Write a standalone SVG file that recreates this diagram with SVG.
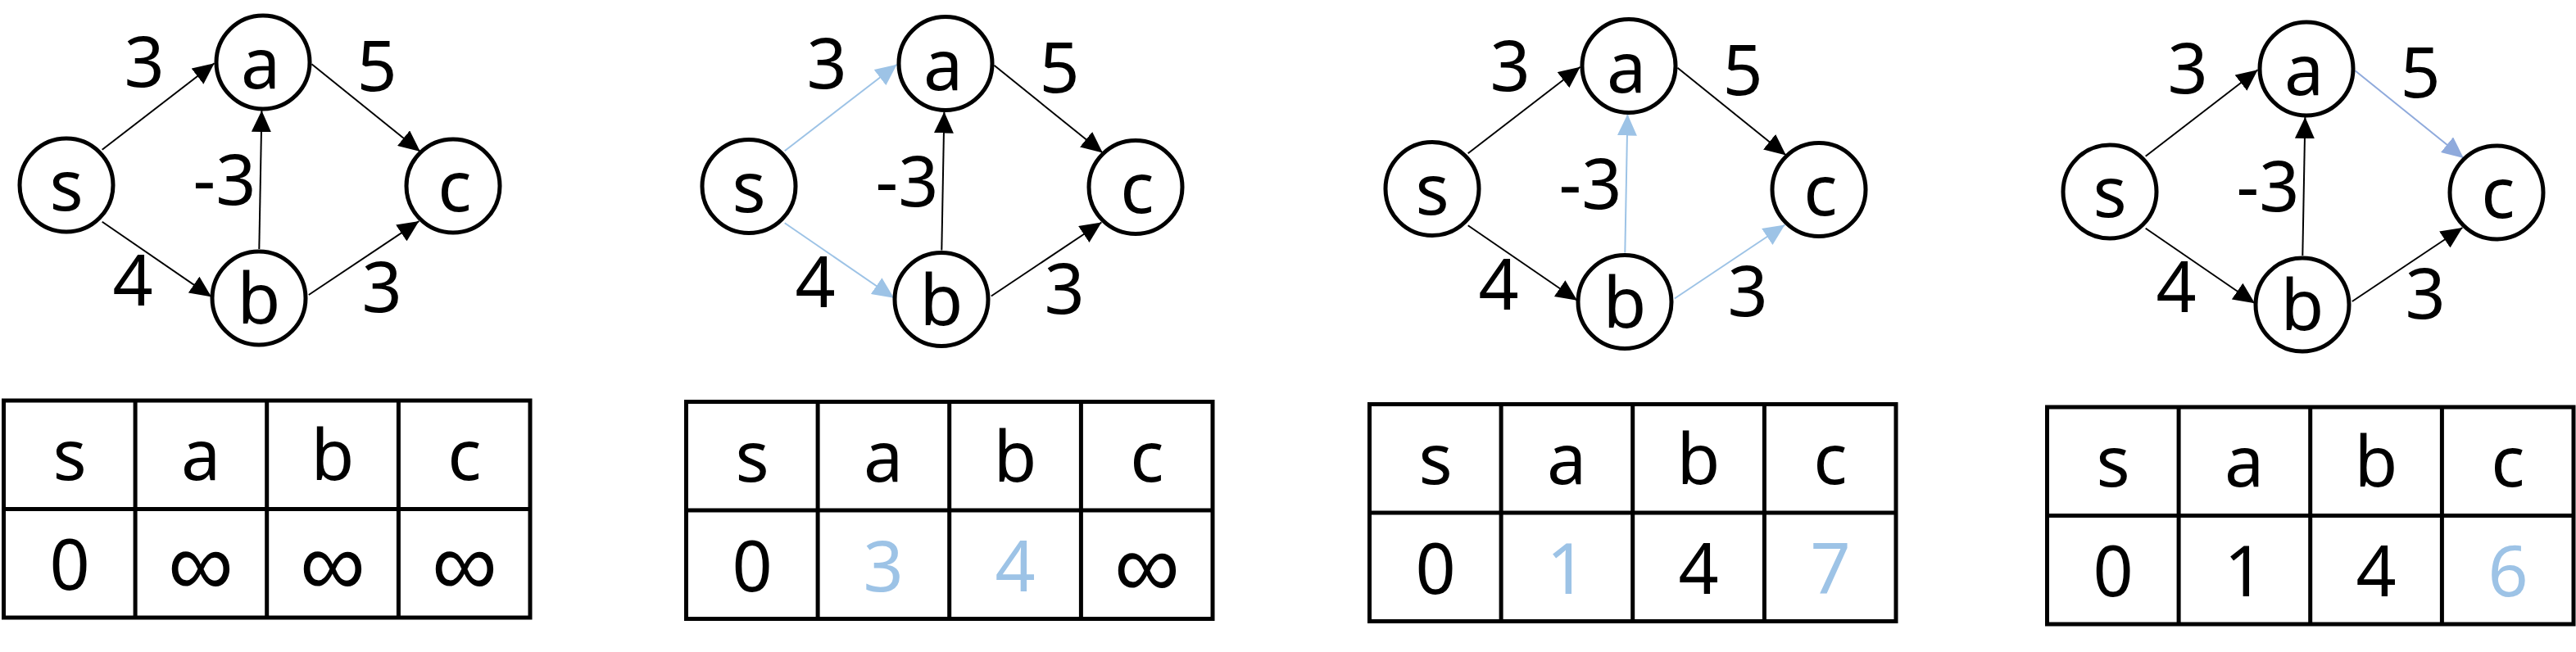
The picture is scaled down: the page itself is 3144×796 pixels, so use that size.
<svg xmlns="http://www.w3.org/2000/svg" width="3144" height="796" viewBox="0 0 3144 796">
<style>
.bg{fill:#ffffff}
.node{fill:#ffffff;stroke:#000;stroke-width:5}
.t{font-family:"Noto Sans","Liberation Sans",sans-serif;font-size:86px;text-anchor:middle;fill:#000}
.inf{font-family:"Liberation Sans","DejaVu Sans",sans-serif;font-size:112px;text-anchor:middle;fill:#000}
.hl{fill:#9DC3E6}
.e{fill:none;stroke:#000;stroke-width:2;marker-end:url(#ak)}
.eb{fill:none;stroke:#9DC3E6;stroke-width:2;marker-end:url(#ab)}
.ep{fill:none;stroke:#8FAADC;stroke-width:2;marker-end:url(#ap)}
.tbl{fill:none;stroke:#000;stroke-width:5}
</style>
<defs>
<marker id="ak" markerUnits="userSpaceOnUse" markerWidth="27" markerHeight="24" refX="26" refY="12" orient="auto"><path d="M0,0 L26,12 L0,24 Z" fill="#000"/></marker>
<marker id="ab" markerUnits="userSpaceOnUse" markerWidth="27" markerHeight="24" refX="26" refY="12" orient="auto"><path d="M0,0 L26,12 L0,24 Z" fill="#9DC3E6"/></marker>
<marker id="ap" markerUnits="userSpaceOnUse" markerWidth="27" markerHeight="24" refX="26" refY="12" orient="auto"><path d="M0,0 L26,12 L0,24 Z" fill="#8FAADC"/></marker>
</defs>
<rect class="bg" x="0" y="0" width="3144" height="796"/>

<!-- Panel 1 -->
<g id="panel1">
  <g id="p1-connectors">
    <path class="e" d="M124.7,182.7 L261.6,77.3"/>
    <path class="e" d="M124.7,270.7 L258,362.3"/>
    <path class="e" d="M316.3,304 L319.4,135"/>
    <path class="e" d="M380.4,78.3 L512.8,185"/>
    <path class="e" d="M376.8,360 L511.4,270"/>
    <text class="t" x="176" y="106">3</text>
    <text class="t" x="460" y="111">5</text>
    <text class="t" x="274" y="250">-3</text>
    <text class="t" x="162" y="373">4</text>
    <text class="t" x="466" y="381">3</text>
  </g>
  <g id="p1-s"><circle class="node" cx="81" cy="226" r="57"/><text class="t" x="81" y="257">s</text></g>
  <g id="p1-a"><circle class="node" cx="321" cy="76" r="57"/><text class="t" x="318" y="108">a</text></g>
  <g id="p1-b"><circle class="node" cx="316" cy="364" r="57"/><text class="t" x="316" y="395">b</text></g>
  <g id="p1-c"><circle class="node" cx="553" cy="227" r="57"/><text class="t" x="555" y="258">c</text></g>
  <g id="p1-table">
    <rect class="tbl" x="4.5" y="489" width="642.5" height="265"/>
    <path class="tbl" d="M165.1,489 V754 M325.7,489 V754 M486.4,489 V754 M4.5,621.5 H647"/>
    <text class="t" x="85" y="586">s</text><text class="t" x="245" y="586">a</text><text class="t" x="406" y="586">b</text><text class="t" x="567" y="586">c</text>
    <text class="t" x="85" y="720">0</text><text class="inf" x="245" y="727">∞</text><text class="inf" x="406" y="727">∞</text><text class="inf" x="567" y="727">∞</text>
  </g>
</g>

<!-- Panel 2 -->
<g id="panel2" transform="translate(833,1.5)">
  <g id="p2-connectors">
    <path class="eb" d="M124.7,182.7 L261.6,77.3"/>
    <path class="eb" d="M124.7,270.7 L258,362.3"/>
    <path class="e" d="M316.3,304 L319.4,135"/>
    <path class="e" d="M380.4,78.3 L512.8,185"/>
    <path class="e" d="M376.8,360 L511.4,270"/>
    <text class="t" x="176" y="106">3</text>
    <text class="t" x="460" y="111">5</text>
    <text class="t" x="274" y="250">-3</text>
    <text class="t" x="162" y="373">4</text>
    <text class="t" x="466" y="381">3</text>
  </g>
  <g id="p2-s"><circle class="node" cx="81" cy="226" r="57"/><text class="t" x="81" y="257">s</text></g>
  <g id="p2-a"><circle class="node" cx="321" cy="76" r="57"/><text class="t" x="318" y="108">a</text></g>
  <g id="p2-b"><circle class="node" cx="316" cy="364" r="57"/><text class="t" x="316" y="395">b</text></g>
  <g id="p2-c"><circle class="node" cx="553" cy="227" r="57"/><text class="t" x="555" y="258">c</text></g>
  <g id="p2-table">
    <rect class="tbl" x="4.5" y="489" width="642.5" height="265"/>
    <path class="tbl" d="M165.1,489 V754 M325.7,489 V754 M486.4,489 V754 M4.5,621.5 H647"/>
    <text class="t" x="85" y="586">s</text><text class="t" x="245" y="586">a</text><text class="t" x="406" y="586">b</text><text class="t" x="567" y="586">c</text>
    <text class="t" x="85" y="720">0</text><text class="t hl" x="245" y="720">3</text><text class="t hl" x="406" y="720">4</text><text class="inf" x="567" y="727">∞</text>
  </g>
</g>

<!-- Panel 3 -->
<g id="panel3" transform="translate(1667,4.5)">
  <g id="p3-connectors">
    <path class="e" d="M124.7,182.7 L261.6,77.3"/>
    <path class="e" d="M124.7,270.7 L258,362.3"/>
    <path class="eb" d="M316.3,304 L319.4,135"/>
    <path class="e" d="M380.4,78.3 L512.8,185"/>
    <path class="eb" d="M376.8,360 L511.4,270"/>
    <text class="t" x="176" y="106">3</text>
    <text class="t" x="460" y="111">5</text>
    <text class="t" x="274" y="250">-3</text>
    <text class="t" x="162" y="373">4</text>
    <text class="t" x="466" y="381">3</text>
  </g>
  <g id="p3-s"><circle class="node" cx="81" cy="226" r="57"/><text class="t" x="81" y="257">s</text></g>
  <g id="p3-a"><circle class="node" cx="321" cy="76" r="57"/><text class="t" x="318" y="108">a</text></g>
  <g id="p3-b"><circle class="node" cx="316" cy="364" r="57"/><text class="t" x="316" y="395">b</text></g>
  <g id="p3-c"><circle class="node" cx="553" cy="227" r="57"/><text class="t" x="555" y="258">c</text></g>
  <g id="p3-table">
    <rect class="tbl" x="4.5" y="489" width="642.5" height="265"/>
    <path class="tbl" d="M165.1,489 V754 M325.7,489 V754 M486.4,489 V754 M4.5,621.5 H647"/>
    <text class="t" x="85" y="586">s</text><text class="t" x="245" y="586">a</text><text class="t" x="406" y="586">b</text><text class="t" x="567" y="586">c</text>
    <text class="t" x="85" y="720">0</text><text class="t hl" x="245" y="720">1</text><text class="t" x="406" y="720">4</text><text class="t hl" x="567" y="720">7</text>
  </g>
</g>

<!-- Panel 4 -->
<g id="panel4" transform="translate(2494,8)">
  <g id="p4-connectors">
    <path class="e" d="M124.7,182.7 L261.6,77.3"/>
    <path class="e" d="M124.7,270.7 L258,362.3"/>
    <path class="e" d="M316.3,304 L319.4,135"/>
    <path class="ep" d="M380.4,78.3 L512.8,185"/>
    <path class="e" d="M376.8,360 L511.4,270"/>
    <text class="t" x="176" y="106">3</text>
    <text class="t" x="460" y="111">5</text>
    <text class="t" x="274" y="250">-3</text>
    <text class="t" x="162" y="373">4</text>
    <text class="t" x="466" y="381">3</text>
  </g>
  <g id="p4-s"><circle class="node" cx="81" cy="226" r="57"/><text class="t" x="81" y="257">s</text></g>
  <g id="p4-a"><circle class="node" cx="321" cy="76" r="57"/><text class="t" x="318" y="108">a</text></g>
  <g id="p4-b"><circle class="node" cx="316" cy="364" r="57"/><text class="t" x="316" y="395">b</text></g>
  <g id="p4-c"><circle class="node" cx="553" cy="227" r="57"/><text class="t" x="555" y="258">c</text></g>
  <g id="p4-table">
    <rect class="tbl" x="4.5" y="489" width="642.5" height="265"/>
    <path class="tbl" d="M165.1,489 V754 M325.7,489 V754 M486.4,489 V754 M4.5,621.5 H647"/>
    <text class="t" x="85" y="586">s</text><text class="t" x="245" y="586">a</text><text class="t" x="406" y="586">b</text><text class="t" x="567" y="586">c</text>
    <text class="t" x="85" y="720">0</text><text class="t" x="245" y="720">1</text><text class="t" x="406" y="720">4</text><text class="t hl" x="567" y="720">6</text>
  </g>
</g>
</svg>
